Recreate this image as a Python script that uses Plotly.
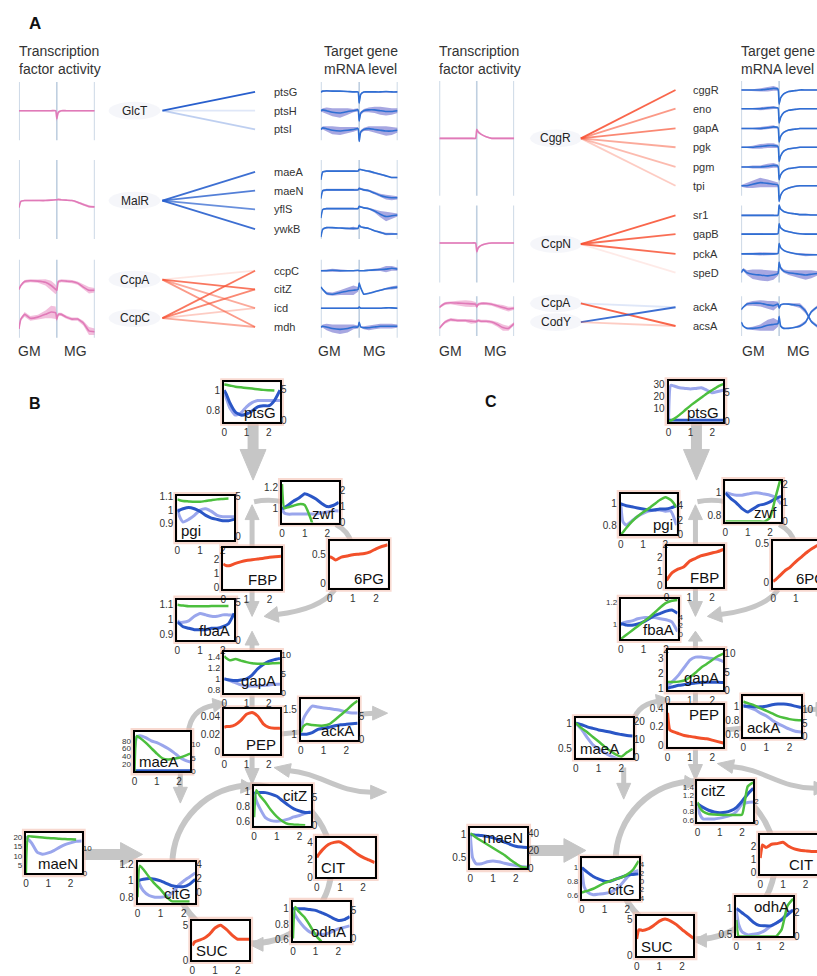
import plotly.graph_objects as go

W, H = 817, 976
FONT = "Liberation Sans, Arial, sans-serif"

# ======================= PANEL A DATA =======================
TA = [0, 0.05, 0.15, 0.3, 0.5, 0.7, 0.85, 0.97, 1.0, 1.04, 1.12, 1.25, 1.4, 1.55, 1.7, 1.85, 2.0]

TF_LEFT_ACT = {
    'GlcT': [0, 0, 0, 0, 0, 0, 0, 0, -1.0, -0.2, 0, 0, 0, 0, 0, 0, 0],
    'MalR': [-0.9, -0.1, 0, 0, 0, 0, 0.05, 0.1, 0.1, 0.15, 0.1, 0.05, 0, -0.2, -0.5, -0.75, -0.8],
    'CcpA': [-0.5, 0, 0.5, 0.6, 0.55, 0.4, 0, -0.5, -0.6, 0.5, 0.6, 0.55, 0.5, 0.3, -0.2, -0.6, -0.6],
    'CcpC': [-1.25, 0, 0.6, 0.1, 0.25, 0.6, 0.9, 0.8, 0, 0.6, 0.6, 0.25, 0, 0, -0.5, -1.5, -1.6],
}
TF_LEFT_SD = {
    'GlcT': [0.1, 0.1, 0.1, 0.1, 0.1, 0.1, 0.1, 0.1, 0.4, 0.2, 0.1, 0.1, 0.1, 0.1, 0.1, 0.1, 0.1],
    'MalR': [0.1, 0.1, 0.1, 0.1, 0.1, 0.1, 0.1, 0.1, 0.1, 0.1, 0.1, 0.1, 0.1, 0.1, 0.15, 0.15, 0.1],
    'CcpA': [0.1, 0.15, 0.2, 0.2, 0.2, 0.4, 0.6, 0.6, 0.3, 0.2, 0.2, 0.2, 0.2, 0.2, 0.3, 0.4, 0.3],
    'CcpC': [0.15, 0.2, 0.3, 0.3, 0.3, 0.5, 0.8, 0.8, 0.3, 0.2, 0.2, 0.2, 0.2, 0.2, 0.3, 0.5, 0.4],
}
TF_RIGHT_ACT = {
    'CggR': [0, 0, 0, 0, 0, 0, 0, 0, 1.1, 0.8, 0.5, 0.2, 0, 0, 0, 0, 0],
    'CcpN': [0, 0, 0, 0, 0, 0, 0, 0, -1.1, -0.6, -0.3, -0.1, 0, 0, 0, 0, 0],
    'CcpA': [-0.4, -0.2, 0.1, 0.2, 0.15, 0.1, 0.05, 0, -0.3, 0, 0.1, 0.1, 0, -0.2, -0.4, -0.6, -0.5],
    'CodY': [-0.8, -0.5, 0, 0.3, 0.2, 0.2, 0.1, 0.05, 0.1, 0.2, 0.1, 0.1, 0, -0.3, -0.7, -0.8, -0.2],
}
TF_RIGHT_SD = {
    'CggR': [0.1, 0.1, 0.1, 0.1, 0.1, 0.1, 0.1, 0.1, 0.2, 0.2, 0.1, 0.1, 0.1, 0.1, 0.1, 0.1, 0.1],
    'CcpN': [0.1, 0.1, 0.1, 0.1, 0.1, 0.1, 0.1, 0.1, 0.3, 0.2, 0.1, 0.1, 0.1, 0.1, 0.1, 0.1, 0.1],
    'CcpA': [0.1, 0.2, 0.2, 0.2, 0.3, 0.4, 0.4, 0.3, 0.2, 0.2, 0.2, 0.2, 0.2, 0.2, 0.3, 0.3, 0.2],
    'CodY': [0.1, 0.2, 0.2, 0.2, 0.2, 0.2, 0.3, 0.2, 0.2, 0.2, 0.2, 0.2, 0.2, 0.3, 0.4, 0.3, 0.2],
}

GENES_LEFT = ['ptsG', 'ptsH', 'ptsI', 'maeA', 'maeN', 'yflS', 'ywkB', 'ccpC', 'citZ', 'icd', 'mdh']
GENES_RIGHT = ['cggR', 'eno', 'gapA', 'pgk', 'pgm', 'tpi', 'sr1', 'gapB', 'pckA', 'speD', 'ackA', 'acsA']

EXPR_LEFT = {
    'ptsG': [0, 0.1, 0.15, 0.1, 0.1, 0.05, 0, 0, -1.4, -0.3, 0, 0, 0, 0, 0.05, 0, 0],
    'ptsH': [0, 0.1, 0, -0.2, -0.3, -0.1, 0, 0.1, -1.3, -0.3, 0, 0.1, 0.1, 0, -0.1, -0.1, 0],
    'ptsI': [0, 0.2, 0.1, -0.1, -0.2, -0.1, 0, 0.1, -1.5, -0.3, 0, 0.1, 0, -0.1, -0.2, -0.2, -0.1],
    'maeA': [-1.0, 0, 0.1, 0.1, 0.1, 0.1, 0.1, 0.1, 0.3, 0.3, 0.2, 0.1, -0.1, -0.3, -0.5, -0.7, -0.7],
    'maeN': [-1.0, 0, 0.1, 0.1, 0.1, 0.1, 0.1, 0.1, 0.3, 0.2, 0.1, 0, -0.3, -0.6, -0.8, -0.9, -0.9],
    'yflS': [-1.1, 0, 0.1, 0.1, 0.1, 0.1, 0.1, 0.1, 0.4, 0.3, 0.2, 0.1, -0.2, -0.6, -0.9, -0.8, -0.7],
    'ywkB': [-1.0, 0, 0.2, 0.2, 0.15, 0.1, 0.1, 0.1, 0.5, 0.3, 0.2, 0.1, -0.2, -0.4, -0.6, -0.6, -0.6],
    'ccpC': [0, 0, 0, 0.05, 0, 0, 0, 0.05, 0, 0, 0, 0.05, 0.1, 0.15, 0.2, 0.3, 0.2],
    'citZ': [0.3, 0, -0.5, -0.6, -0.4, -0.2, -0.1, 0, 0.8, 0.2, -0.6, -0.5, -0.3, -0.1, 0.1, 0.2, 0.3],
    'icd': [0, 0, 0, 0, 0, 0, 0, 0, 0.15, 0, 0, 0, 0, 0, 0.05, 0.05, 0],
    'mdh': [0, 0.1, 0, -0.2, -0.3, -0.2, 0, 0, 0.6, 0, -0.1, -0.1, 0, 0.1, 0.1, 0.1, 0.1],
}
SD_LEFT = {
    'ptsG': [0.1, 0.1, 0.1, 0.1, 0.1, 0.1, 0.1, 0.1, 0.2, 0.1, 0.1, 0.1, 0.1, 0.1, 0.1, 0.1, 0.1],
    'ptsH': [0.1, 0.2, 0.4, 0.5, 0.6, 0.4, 0.2, 0.2, 0.2, 0.2, 0.2, 0.3, 0.4, 0.5, 0.5, 0.4, 0.3],
    'ptsI': [0.1, 0.2, 0.3, 0.5, 0.5, 0.4, 0.3, 0.2, 0.2, 0.2, 0.2, 0.3, 0.4, 0.5, 0.6, 0.5, 0.3],
    'maeA': [0.1, 0.1, 0.1, 0.1, 0.1, 0.1, 0.1, 0.1, 0.1, 0.1, 0.1, 0.1, 0.1, 0.1, 0.1, 0.1, 0.1],
    'maeN': [0.15, 0.15, 0.15, 0.15, 0.15, 0.15, 0.15, 0.15, 0.15, 0.15, 0.15, 0.15, 0.15, 0.2, 0.3, 0.3, 0.2],
    'yflS': [0.1, 0.1, 0.1, 0.1, 0.1, 0.1, 0.1, 0.1, 0.1, 0.1, 0.1, 0.1, 0.2, 0.4, 0.6, 0.4, 0.2],
    'ywkB': [0.1, 0.1, 0.1, 0.1, 0.1, 0.1, 0.2, 0.1, 0.1, 0.1, 0.1, 0.1, 0.1, 0.1, 0.15, 0.15, 0.1],
    'ccpC': [0.1, 0.1, 0.15, 0.2, 0.15, 0.1, 0.1, 0.1, 0.1, 0.1, 0.1, 0.1, 0.15, 0.2, 0.4, 0.3, 0.2],
    'citZ': [0.1, 0.1, 0.2, 0.2, 0.3, 0.5, 0.6, 0.3, 0.2, 0.1, 0.1, 0.1, 0.1, 0.1, 0.15, 0.2, 0.2],
    'icd': [0.1, 0.1, 0.1, 0.1, 0.1, 0.1, 0.1, 0.1, 0.1, 0.1, 0.1, 0.1, 0.1, 0.1, 0.1, 0.1, 0.1],
    'mdh': [0.1, 0.2, 0.4, 0.5, 0.6, 0.5, 0.3, 0.2, 0.1, 0.1, 0.2, 0.3, 0.3, 0.3, 0.3, 0.3, 0.2],
}
EXPR_RIGHT = {
    'cggR': [0, 0, 0, 0, 0, 0.1, 0.2, 0.1, -1.8, -1.0, -0.5, -0.2, -0.1, 0, 0, 0, 0],
    'eno': [0, 0, 0, 0, 0, 0.1, 0.15, 0.1, -1.8, -1.1, -0.5, -0.2, -0.1, 0, 0, 0, 0],
    'gapA': [0, 0, 0, 0, 0, 0.1, 0.2, 0.1, -1.7, -1.0, -0.5, -0.2, -0.1, 0, 0, 0, 0],
    'pgk': [0, 0, 0, 0, 0.1, 0.2, 0.2, 0.1, -1.8, -1.1, -0.5, -0.2, -0.1, 0, 0, 0, 0],
    'pgm': [0, 0, 0, 0, 0, 0.1, 0.2, 0.1, -1.6, -1.0, -0.5, -0.2, -0.1, 0, 0, 0, 0],
    'tpi': [0, 0, 0, 0.2, 0.4, 0.3, 0.2, 0.1, -2.0, -1.2, -0.6, -0.3, -0.1, 0, 0, 0, 0],
    'sr1': [0, 0, 0, 0, 0, 0, 0, 0, 1.3, 0.8, 0.5, 0.3, 0.2, 0.1, 0.1, 0.05, 0.05],
    'gapB': [0, 0, 0, 0, 0, 0, 0, 0.05, 1.3, 0.8, 0.5, 0.3, 0.15, 0.05, 0, 0, 0],
    'pckA': [0, 0, 0, 0, 0, 0, 0, 0.05, 1.3, 0.8, 0.45, 0.2, 0.05, -0.05, -0.1, -0.1, -0.1],
    'speD': [0, 0.4, 0, -0.2, -0.3, -0.4, -0.3, -0.1, 1.3, 0.6, 0.2, 0, -0.1, -0.2, -0.3, -0.2, -0.1],
    'ackA': [-0.3, 0, 0.4, 0.5, 0.5, 0.3, 0.2, 0.4, -0.1, 0.3, 0.4, 0.4, 0.3, 0.2, -0.5, -1.8, -2.4],
    'acsA': [0.5, 0, -0.3, -0.3, -0.2, 0.1, 0.2, 0.3, 1.2, 0, -0.3, -0.3, -0.2, 0, 0.5, 1.8, 2.4],
}
SD_RIGHT = {
    'cggR': [0.1, 0.1, 0.1, 0.1, 0.2, 0.3, 0.3, 0.2, 0.2, 0.1, 0.1, 0.1, 0.1, 0.1, 0.1, 0.1, 0.1],
    'eno': [0.1, 0.1, 0.1, 0.1, 0.2, 0.2, 0.2, 0.1, 0.2, 0.1, 0.1, 0.1, 0.1, 0.1, 0.1, 0.1, 0.1],
    'gapA': [0.1, 0.1, 0.1, 0.1, 0.2, 0.2, 0.2, 0.1, 0.2, 0.1, 0.1, 0.1, 0.1, 0.1, 0.1, 0.1, 0.1],
    'pgk': [0.1, 0.1, 0.1, 0.2, 0.3, 0.3, 0.3, 0.2, 0.2, 0.1, 0.1, 0.1, 0.1, 0.1, 0.1, 0.1, 0.1],
    'pgm': [0.1, 0.1, 0.1, 0.2, 0.2, 0.3, 0.3, 0.2, 0.2, 0.1, 0.1, 0.1, 0.1, 0.1, 0.1, 0.1, 0.1],
    'tpi': [0.1, 0.2, 0.3, 0.5, 0.6, 0.5, 0.4, 0.3, 0.2, 0.2, 0.1, 0.1, 0.1, 0.1, 0.1, 0.1, 0.1],
    'sr1': [0.1, 0.1, 0.1, 0.1, 0.1, 0.1, 0.1, 0.1, 0.2, 0.1, 0.1, 0.1, 0.1, 0.1, 0.1, 0.1, 0.1],
    'gapB': [0.1, 0.1, 0.1, 0.1, 0.1, 0.1, 0.1, 0.1, 0.2, 0.1, 0.1, 0.1, 0.1, 0.1, 0.1, 0.1, 0.1],
    'pckA': [0.1, 0.1, 0.1, 0.15, 0.2, 0.2, 0.15, 0.1, 0.2, 0.1, 0.1, 0.1, 0.1, 0.15, 0.2, 0.15, 0.1],
    'speD': [0.1, 0.2, 0.3, 0.6, 0.7, 0.7, 0.6, 0.3, 0.2, 0.2, 0.2, 0.3, 0.4, 0.5, 0.6, 0.5, 0.3],
    'ackA': [0.1, 0.1, 0.2, 0.3, 0.4, 0.5, 0.6, 0.3, 0.1, 0.1, 0.1, 0.1, 0.2, 0.3, 0.3, 0.2, 0.2],
    'acsA': [0.1, 0.1, 0.1, 0.2, 0.4, 0.7, 0.8, 0.4, 0.2, 0.1, 0.1, 0.1, 0.1, 0.2, 0.2, 0.2, 0.2],
}

# regulatory edges: (TF, target, kind, strength)
EDGES_LEFT = [
    ('GlcT', 'ptsG', 'act', 1.0), ('GlcT', 'ptsH', 'act', 0.15), ('GlcT', 'ptsI', 'act', 0.3),
    ('MalR', 'maeA', 'act', 0.9), ('MalR', 'maeN', 'act', 0.8), ('MalR', 'yflS', 'act', 0.7), ('MalR', 'ywkB', 'act', 0.9),
    ('CcpA', 'ccpC', 'rep', 0.15), ('CcpA', 'citZ', 'rep', 0.8), ('CcpA', 'icd', 'rep', 0.5), ('CcpA', 'mdh', 'rep', 0.6),
    ('CcpC', 'ccpC', 'rep', 0.8), ('CcpC', 'citZ', 'rep', 0.7), ('CcpC', 'icd', 'rep', 0.3), ('CcpC', 'mdh', 'rep', 0.5),
]
EDGES_RIGHT = [
    ('CggR', 'cggR', 'rep', 0.9), ('CggR', 'eno', 'rep', 0.6), ('CggR', 'gapA', 'rep', 0.7),
    ('CggR', 'pgk', 'rep', 0.5), ('CggR', 'pgm', 'rep', 0.4), ('CggR', 'tpi', 'rep', 0.3),
    ('CcpN', 'sr1', 'rep', 0.9), ('CcpN', 'gapB', 'rep', 0.85), ('CcpN', 'pckA', 'rep', 0.85), ('CcpN', 'speD', 'rep', 0.12),
    ('CcpA', 'ackA', 'act', 0.15), ('CcpA', 'acsA', 'rep', 0.9),
    ('CodY', 'ackA', 'act', 0.9), ('CodY', 'acsA', 'rep', 0.3),
]

# ======================= PANELS B / C DATA =======================
T = [0, 0.1, 0.25, 0.5, 0.75, 1.0, 1.25, 1.5, 1.75, 2.0, 2.25, 2.5]
INSETS = ['ptsG', 'pgi', 'zwf', 'FBP', '6PG', 'fbaA', 'gapA', 'PEP', 'ackA', 'maeA', 'citZ', 'maeN', 'CIT', 'citG', 'odhA', 'SUC']
METABOLITES = ['FBP', '6PG', 'PEP', 'CIT', 'SUC']

B_DARK = {
    'ptsG': [1.0, 0.96, 0.88, 0.79, 0.76, 0.77, 0.80, 0.84, 0.85, 0.85, 0.90, 1.0],
    'pgi': [0.99, 1.0, 1.01, 1.02, 1.01, 0.99, 0.96, 0.94, 0.93, 0.92, 0.92, 0.93],
    'zwf': [1.0, 1.01, 1.03, 1.07, 1.1, 1.14, 1.12, 1.09, 1.05, 1.02, 1.03, 1.06],
    'fbaA': [0.98, 0.97, 0.95, 0.94, 0.93, 0.93, 0.93, 0.94, 0.94, 0.95, 0.97, 1.04],
    'gapA': [1.0, 0.99, 0.98, 0.97, 0.98, 1.0, 1.07, 1.18, 1.26, 1.32, 1.35, 1.37],
    'ackA': [1.0, 1.0, 1.0, 1.03, 1.1, 1.12, 1.14, 1.17, 1.19, 1.2, 1.21, 1.22],
    'maeA': [2, 2, 2, 2, 2, 2, 2, 2, 2, 2, 2, 2],
    'citZ': [0.98, 0.99, 0.99, 0.99, 0.97, 0.94, 0.88, 0.82, 0.77, 0.74, 0.72, 0.72],
    'maeN': None,
    'citG': [1.0, 1.01, 1.02, 1.03, 1.02, 1.0, 0.97, 0.94, 0.93, 0.93, 0.96, 1.02],
    'odhA': [1.0, 1.0, 1.0, 1.0, 0.99, 0.98, 0.95, 0.92, 0.88, 0.85, 0.86, 0.9],
}
B_LIGHT = {
    'ptsG': [0.98, 0.92, 0.83, 0.76, 0.78, 0.84, 0.88, 0.90, 0.90, 0.90, 0.90, 0.90],
    'pgi': [1.01, 0.95, 0.91, 0.93, 0.96, 1.0, 1.01, 0.99, 0.96, 0.95, 0.95, 0.95],
    'zwf': [1.0, 0.96, 0.95, 0.95, 0.95, 0.95, 0.95, 0.95, 0.96, 0.97, 0.98, 0.98],
    'fbaA': [0.99, 0.98, 0.98, 0.99, 1.02, 1.04, 1.03, 1.02, 1.02, 1.03, 1.03, 1.03],
    'gapA': [1.0, 0.99, 0.97, 0.93, 0.89, 0.87, 0.87, 0.87, 0.88, 0.89, 0.9, 0.9],
    'ackA': [1.07, 1.3, 1.43, 1.57, 1.55, 1.53, 1.52, 1.5, 1.48, 1.45, 1.43, 1.43],
    'maeA': [60, 90, 93, 88, 80, 75, 68, 60, 50, 38, 30, 25],
    'citZ': [1.0, 0.88, 0.78, 0.65, 0.61, 0.6, 0.61, 0.63, 0.66, 0.68, 0.71, 0.73],
    'maeN': [20.5, 19, 17, 12, 10.8, 11.5, 12.8, 14.5, 16, 17, 17.8, 18],
    'citG': [1.03, 0.95, 0.88, 0.82, 0.8, 0.8, 0.81, 0.85, 0.94, 1.0, 1.05, 1.1],
    'odhA': [1.0, 0.92, 0.85, 0.76, 0.7, 0.68, 0.67, 0.68, 0.71, 0.74, 0.76, 0.78],
}
B_GREEN = {
    'ptsG': [5.8, 5.7, 5.6, 5.4, 5.3, 5.2, 5.1, 5.0, 4.9, 4.85, 4.8, None],
    'pgi': [4.6, 4.5, 4.4, 4.35, 4.3, 4.3, 4.4, 4.5, 4.6, 4.65, 4.7, None],
    'zwf': [2.4, 0.9, 0.95, 1.05, 1.15, 1.1, 0.3, -0.8, None, None, None, None],
    'fbaA': [4.7, 4.65, 4.6, 4.5, 4.5, 4.5, 4.5, 4.55, 4.55, 4.55, 4.55, None],
    'gapA': [9.8, 9.2, 8.7, 9.0, 8.6, 8.2, 7.9, 7.8, 7.8, 7.8, 7.9, 8.0],
    'ackA': [1.6, 2.8, 3.3, 3.1, 3.0, 3.0, 3.3, 4.2, 5.2, 6.2, 7.3, 8.2],
    'maeA': [0, 12.9, 12.2, 10.5, 8.5, 6.5, 4.8, 4.4, 4.6, 5.0, 5.7, 6.5],
    'citZ': [1.5, 6.2, 5.3, 4.1, 2.7, 1.6, 0.8, 0.3, 0.2, 0.15, 0.1, None],
    'maeN': [0, 14.5, 14.4, 14.2, 14.0, 13.8, 13.7, 13.5, 13.4, 13.3, 13.2, None],
    'citG': [-0.7, 3.8, 3.3, 2.2, 1.2, 0.4, -0.6, -1.3, -1.3, -1.3, -1.3, None],
    'odhA': [0, 5.6, 4.8, 3.8, 2.3, 0.6, -0.5, None, None, None, None, None],
}
B_RED = {
    'FBP': [1.7, 1.6, 1.57, 1.72, 1.85, 1.95, 2.0, 2.05, 2.1, 2.17, 2.22, 2.25],
    '6PG': [0.46, 0.44, 0.40, 0.45, 0.47, 0.49, 0.50, 0.51, 0.54, 0.59, 0.63, 0.66],
    'PEP': [0.028, 0.029, 0.029, 0.031, 0.036, 0.043, 0.045, 0.041, 0.032, 0.028, 0.027, 0.027],
    'CIT': [2.3, 2.7, 3.2, 3.8, 4.05, 4.1, 3.7, 3.2, 2.7, 2.3, 2.0, 1.7],
    'SUC': [2.1, 2.6, 2.8, 3.1, 3.7, 4.6, 5.0, 4.4, 3.6, 3.0, 3.0, 3.0],
}
B_YL_TICKS = {'ptsG': [0.8, 1], 'pgi': [0.9, 1, 1.1], 'zwf': [1, 1.2], 'FBP': [0, 1, 2], '6PG': [0, 0.5],
              'fbaA': [0.9, 1, 1.1], 'gapA': [0.8, 1, 1.2, 1.4], 'PEP': [0, 0.02, 0.04], 'ackA': [1, 1.5],
              'maeA': [20, 40, 60, 80], 'citZ': [0.6, 0.8, 1], 'maeN': [5, 10, 15, 20], 'CIT': [0, 2, 4],
              'citG': [0.8, 1, 1.2], 'odhA': [0.6, 0.8, 1], 'SUC': [0, 5]}
B_YR_TICKS = {'ptsG': [0, 5], 'pgi': [0, 5], 'zwf': [0, 1, 2], 'fbaA': [0, 5], 'gapA': [0, 5, 10], 'ackA': [0, 5],
              'maeA': [0, 5, 10], 'citZ': [0, 5], 'maeN': [0, 10], 'citG': [0, 2, 4], 'odhA': [0, 5]}

C_DARK = {
    'ptsG': [0.5, 0.5, 0.5, 0.5, 0.5, 0.5, 0.5, 0.5, 0.5, 0.5, 0.5, 0.5],
    'pgi': [1.0, 0.99, 0.98, 0.97, 0.96, 0.95, 0.94, 0.94, 0.95, 0.95, 0.96, 0.98],
    'zwf': [1.0, 0.98, 0.95, 0.91, 0.86, 0.83, 0.86, 0.89, 0.9, 0.92, 0.95, 0.97],
    'fbaA': [1.0, 1.0, 0.99, 0.99, 1.0, 1.02, 1.05, 1.08, 1.1, 1.12, 1.13, 1.1],
    'gapA': [1.0, 1.05, 1.1, 1.2, 1.25, 1.3, 1.35, 1.38, 1.4, 1.4, 1.4, 1.38],
    'ackA': [1.0, 1.0, 1.0, 0.99, 0.99, 1.0, 1.02, 1.03, 1.03, 1.02, 1.0, 0.98],
    'maeA': [1.0, 0.99, 0.97, 0.93, 0.9, 0.87, 0.85, 0.83, 0.8, 0.78, 0.76, 0.75],
    'citZ': [0.99, 0.95, 0.9, 0.83, 0.79, 0.77, 0.78, 0.82, 0.9, 1.05, 1.22, 1.36],
    'maeN': [1.0, 1.0, 0.99, 0.98, 0.96, 0.93, 0.89, 0.84, 0.79, 0.75, 0.73, 0.72],
    'citG': [1.0, 0.97, 0.93, 0.87, 0.83, 0.8, 0.8, 0.83, 0.86, 0.89, 0.9, 0.91],
    'odhA': [1.0, 0.97, 0.92, 0.84, 0.74, 0.68, 0.67, 0.67, 0.72, 0.79, 0.88, 0.97],
}
C_LIGHT = {
    'ptsG': [0, 29, 28.5, 27, 26.5, 26, 26.5, 27, 25, 23, 24, 25],
    'pgi': [1.0, 0.83, 0.8, 0.84, 0.88, 0.91, 0.93, 0.94, 0.94, 0.93, 0.93, 0.8],
    'zwf': [1.0, 1.0, 0.99, 0.98, 0.98, 0.99, 1.0, 1.0, 0.99, 0.98, 0.96, 0.9],
    'fbaA': [1.0, 1.01, 1.02, 1.03, 1.05, 1.06, 1.06, 1.06, 1.05, 1.04, 1.02, 0.93],
    'gapA': [1.2, 1.3, 1.5, 1.9, 2.4, 2.9, 3.1, 3.1, 3.05, 3.0, 2.95, 2.8],
    'ackA': [1.03, 1.0, 0.98, 0.95, 0.9, 0.86, 0.8, 0.75, 0.71, 0.67, 0.64, 0.63],
    'maeA': [1.0, 0.95, 0.88, 0.72, 0.58, 0.5, 0.43, 0.37, 0.32, 0.28, 0.25, 0.22],
    'citZ': [1.0, 0.75, 0.62, 0.62, 0.62, 0.64, 0.67, 0.71, 0.8, 0.98, 1.02, 1.03],
    'maeN': [1.0, 0.5, 0.37, 0.37, 0.41, 0.43, 0.41, 0.38, 0.35, 0.33, 0.31, 0.3],
    'citG': [0.98, 0.72, 0.64, 0.6, 0.61, 0.62, 0.64, 0.68, 0.76, 0.86, 0.93, 0.96],
    'odhA': [0.97, 0.7, 0.56, 0.5, 0.51, 0.53, 0.58, 0.66, 0.72, 0.79, 0.92, 0.97],
}
C_GREEN = {
    'ptsG': [0, 0.2, 0.5, 1.2, 2.0, 2.8, 3.5, 4.2, 4.9, 5.5, 6.1, 6.5],
    'pgi': [0, 0.3, 0.9, 1.8, 2.5, 3.1, 3.6, 4.2, 4.8, 5.2, 4.8, 3.8],
    'zwf': [0, 0, 0, 0, 0, 0, 0, 0, 0, 0.2, 1.3, 2.4],
    'fbaA': [-1.2, -0.8, -0.2, 0.8, 1.8, 2.8, 3.8, 5.0, 6.2, 7.2, 7.7, 7.9],
    'gapA': [2.3, 2.3, 2.3, 2.4, 2.7, 3.6, 4.8, 6.2, 7.2, 8.3, 9.3, 10.0],
    'ackA': [12.8, 12.4, 12.0, 11.3, 10.3, 9.4, 8.5, 7.5, 6.9, 6.4, 6.1, 6.0],
    'maeA': [19.4, 18.2, 16.5, 14.2, 11.5, 9.0, 6.3, 3.8, 1.8, 0.5, 3.0, 5.0],
    'citZ': [1.9, 1.4, 1.0, 0.75, 0.7, 0.68, 0.66, 0.65, 0.65, 0.7, 3.4, 3.8],
    'maeN': [39.6, 38, 35, 31, 27, 23, 19, 15, 10, 5.5, 1.5, 0.5],
    'citG': [-2.7, -2.5, -2.3, -1.8, -1.1, -0.4, 0.0, 0.5, 0.9, 1.6, 2.7, 4.8],
    'odhA': [1.4, 0, 0, 0, 0, 0, 0, 0, 0, 0.6, 2.6, 3.2],
}
C_RED = {
    'FBP': [0.35, 0.6, 0.9, 1.15, 1.3, 1.7, 1.9, 2.1, 2.2, 2.3, 2.4, 2.55],
    '6PG': [0.02, 0.04, 0.08, 0.15, 0.2, 0.27, 0.33, 0.39, 0.44, 0.48, 0.45, 0.42],
    'PEP': [0.35, 0.17, 0.15, 0.13, 0.11, 0.1, 0.09, 0.08, 0.075, 0.06, 0.045, 0.03],
    'CIT': [1.1, 2.1, 1.9, 2.15, 2.2, 2.3, 2.0, 1.8, 1.7, 1.65, 1.6, 1.6],
    'SUC': [2.3, 3.6, 3.5, 3.7, 4.2, 4.8, 5.1, 4.8, 4.3, 3.6, 3.0, 2.4],
}
C_YL_TICKS = {'ptsG': [10, 20, 30], 'pgi': [0.8, 1], 'zwf': [0.8, 1], 'FBP': [0, 1, 2], '6PG': [0, 0.5],
              'fbaA': [1, 1.2], 'gapA': [1, 2, 3], 'PEP': [0, 0.2, 0.4], 'ackA': [0.6, 0.8, 1],
              'maeA': [0.5, 1], 'citZ': [0.6, 0.8, 1, 1.2, 1.4], 'maeN': [0.5, 1], 'CIT': [0, 1, 2],
              'citG': [0.6, 0.8, 1], 'odhA': [0.5, 1], 'SUC': [0, 5]}
C_YR_TICKS = {'ptsG': [0, 5], 'pgi': [0, 2, 4], 'zwf': [0, 1, 2], 'fbaA': [0, 2, 4], 'gapA': [0, 5, 10],
              'ackA': [0, 5, 10], 'maeA': [0, 10, 20], 'citZ': [0, 2], 'maeN': [0, 20, 40],
              'citG': [-4, -2, 0, 2, 4], 'odhA': [0, 2]}
C_YR_TEXT = {'citG': ['4', '2', '0', '2', '4']}

# ======================= LAYOUT CONSTANTS =======================
B_BOX = {'ptsG': (222, 382, 278, 422), 'pgi': (175, 497, 232, 542), 'zwf': (280, 483, 337, 524),
         'FBP': (221, 550, 279, 591), '6PG': (328, 543, 386, 590), 'fbaA': (175, 602, 232, 643),
         'gapA': (222, 655, 278, 697), 'PEP': (222, 713, 278, 758), 'ackA': (299, 703, 356, 744),
         'maeA': (132, 736, 188, 776), 'citZ': (252, 791, 309, 831), 'maeN': (23, 838, 79, 879),
         'CIT': (315, 843, 373, 883), 'citG': (135, 868, 193, 909), 'odhA': (291, 908, 348, 948),
         'SUC': (190, 927, 247, 967)}
B_YL_RANGE = {'ptsG': [0.695, 1.076], 'pgi': [0.772, 1.107], 'zwf': [0.871, 1.249], 'FBP': [-0.07, 2.82],
              '6PG': [-0.067, 0.717], 'fbaA': [0.86, 1.133], 'gapA': [0.735, 1.49], 'PEP': [-0.002, 0.0487],
              'ackA': [0.886, 1.706], 'maeA': [0.3, 103], 'citZ': [0.54, 1.076], 'maeN': [0.5, 22.5],
              'CIT': [0, 4.6], 'citG': [0.73, 1.23], 'odhA': [0.58, 1.09], 'SUC': [0, 5.67]}
B_YR_RANGE = {'ptsG': [-0.16, 6.1], 'pgi': [-0.46, 5.03], 'zwf': [0, 2.53], 'fbaA': [0, 5.4], 'gapA': [-0.1, 10.9],
              'ackA': [0, 8.5], 'maeA': [0, 14.4], 'citZ': [0, 6.9], 'maeN': [0, 15.9], 'citG': [-1.5, 4.3],
              'odhA': [-0.5, 6.5]}
B_LAB = {'ptsG': 'br', 'pgi': 'bl', 'zwf': 'br', 'FBP': 'br', '6PG': 'br', 'fbaA': 'br', 'gapA': 'mr',
         'PEP': 'br', 'ackA': 'br', 'maeA': 'bl', 'citZ': 'tr', 'maeN': 'br', 'CIT': 'bl', 'citG': 'br',
         'odhA': 'br', 'SUC': 'bl'}
B_TICKSIZE = {'maeA': 8, 'maeN': 8, 'gapA': 9}

C_BOX = {'ptsG': (668, 381, 723, 422), 'pgi': (620, 495, 676, 536), 'zwf': (725, 482, 781, 523),
         'FBP': (666, 548, 723, 589), '6PG': (773, 543, 830, 590), 'fbaA': (620, 601, 677, 642),
         'gapA': (667, 653, 723, 694), 'PEP': (667, 709, 723, 751), 'ackA': (743, 700, 801, 741),
         'maeA': (575, 722, 632, 762), 'citZ': (697, 786, 753, 827), 'maeN': (469, 833, 526, 874),
         'CIT': (760, 840, 817, 880), 'citG': (581, 864, 638, 905), 'odhA': (736, 903, 793, 943),
         'SUC': (636, 922, 693, 963)}
C_YL_RANGE = {'ptsG': [-0.8, 32.3], 'pgi': [0.714, 1.09], 'zwf': [0.745, 1.106], 'FBP': [-0.1, 2.78],
              '6PG': [-0.06, 0.525], 'fbaA': [0.86, 1.237], 'gapA': [0.85, 3.58], 'PEP': [-0.01, 0.43],
              'ackA': [0.56, 1.14], 'maeA': [0.33, 1.1], 'citZ': [0.55, 1.53], 'maeN': [0.27, 1.15],
              'CIT': [-0.12, 2.88], 'citG': [0.54, 1.136], 'odhA': [0.47, 1.22], 'SUC': [-0.1, 5.56]}
C_YR_RANGE = {'ptsG': [0, 7.0], 'pgi': [0, 5.65], 'zwf': [0, 2.16], 'fbaA': [-1.2, 8.2], 'gapA': [0, 11],
              'ackA': [0, 14.6], 'maeA': [0, 22.1], 'citZ': [0, 3.9], 'maeN': [0, 46], 'citG': [-4.2, 5.4],
              'odhA': [0, 3.36]}
C_LAB = {'ptsG': 'br', 'pgi': 'br', 'zwf': 'br', 'FBP': 'br', '6PG': 'br', 'fbaA': 'br', 'gapA': 'mr',
         'PEP': 'tr', 'ackA': 'bl', 'maeA': 'bl', 'citZ': 'tl', 'maeN': 'tr', 'CIT': 'br', 'citG': 'br',
         'odhA': 'tr', 'SUC': 'bl'}
C_TICKSIZE = {'citZ': 8, 'citG': 8, 'fbaA': 8}

# panel A positions
ROW_Y = {'ptsG': 88, 'ptsH': 107, 'ptsI': 126, 'maeA': 169, 'maeN': 188, 'yflS': 207, 'ywkB': 227,
         'ccpC': 269, 'citZ': 288, 'icd': 307, 'mdh': 326}
ROW_Y_R = {'cggR': 86, 'eno': 105, 'gapA': 125, 'pgk': 144, 'pgm': 164, 'tpi': 183, 'sr1': 213,
           'gapB': 232, 'pckA': 252, 'speD': 271, 'ackA': 306, 'acsA': 325}
TF_CURVE_Y_L = {'GlcT': 107, 'MalR': 198, 'CcpA': 284, 'CcpC': 318}
TF_CURVE_Y_R = {'CggR': 135, 'CcpN': 241, 'CcpA': 303, 'CodY': 321}
TF_NODE_Y_L = {'GlcT': 107, 'MalR': 198, 'CcpA': 278, 'CcpC': 317}
TF_NODE_Y_R = {'CggR': 135, 'CcpN': 242, 'CcpA': 302, 'CodY': 321}
GROUPS_L = [(78, 137), (157, 237), (258, 337)]
GROUPS_R = [(77, 193), (203, 281), (295, 335)]
AMP = 8

DARK, LIGHT, GREEN, RED = '#2a56c6', '#9aa6ec', '#4cbf3e', '#f2502a'
GRAY = '#c6c6c6'

# ======================= BUILD =======================
layout = dict(width=W, height=H, margin=dict(l=0, r=0, t=0, b=0), paper_bgcolor='white',
              plot_bgcolor='rgba(0,0,0,0)', showlegend=False, autosize=False)
layout['xaxis'] = dict(domain=[0, 1], range=[0, W], visible=False, fixedrange=True)
layout['yaxis'] = dict(domain=[0, 1], range=[H, 0], visible=False, fixedrange=True)

traces, shapes_arrows, shapes_boxes, shapes_nodes, annotations = [], [], [], [], []


def px(x):
    return x / W


def py(y):
    return 1 - y / H


def text(s, x, y, size=12, xa='center', ya='middle', color='#222', bold=False):
    annotations.append(dict(text=f'<b>{s}</b>' if bold else s, x=px(x), y=py(y), xref='paper', yref='paper',
                            xanchor=xa, yanchor=ya, showarrow=False, align='left',
                            font=dict(size=size, color=color, family=FONT)))


# ---------- panel A columns ----------
def column(axid, x0, x1, groups, curves, centers, sds, lc, bc, last_line=True):
    layout[f'xaxis{axid}'] = dict(domain=[px(x0), px(x1)], range=[0, 2], anchor='y', visible=False, fixedrange=True)
    xs, ys = [], []
    for (g0, g1) in groups:
        for t in ([0, 1, 2] if last_line else [0, 1]):
            xs += [t, t, None]
            ys += [g0, g1, None]
    traces.append(go.Scatter(x=xs, y=ys, xaxis=f'x{axid}', yaxis='y', mode='lines',
                             line=dict(color='#bfcfe0', width=1.6), hoverinfo='skip'))
    for name, vals in curves.items():
        c = centers[name]
        sd = sds[name]
        up = [c - AMP * (v + s) for v, s in zip(vals, sd)]
        lo = [c - AMP * (v - s) for v, s in zip(vals, sd)]
        traces.append(go.Scatter(x=TA + TA[::-1], y=up + lo[::-1], xaxis=f'x{axid}', yaxis='y', mode='lines',
                                 fill='toself', fillcolor=bc, line=dict(width=0), hoverinfo='skip'))
        traces.append(go.Scatter(x=TA, y=[c - AMP * v for v in vals], xaxis=f'x{axid}', yaxis='y', mode='lines',
                                 line=dict(color=lc, width=1.6, shape='spline', smoothing=0.4), hoverinfo='skip'))


PINK, PINKB = '#e07ab8', 'rgba(226,110,178,0.45)'
BLUE, BLUEB = '#2f6fd3', 'rgba(95,95,200,0.55)'
column(2, 16, 92, GROUPS_L, TF_LEFT_ACT, TF_CURVE_Y_L, TF_LEFT_SD, PINK, PINKB)
column(3, 319, 396, GROUPS_L, EXPR_LEFT, ROW_Y, SD_LEFT, BLUE, BLUEB)
column(4, 438, 513, GROUPS_R, TF_RIGHT_ACT, TF_CURVE_Y_R, TF_RIGHT_SD, PINK, PINKB)
column(5, 741, 817, GROUPS_R, EXPR_RIGHT, ROW_Y_R, SD_RIGHT, BLUE, BLUEB, last_line=False)


def fan(edges, node_y, row_y, xs, xe, xlab, glab_x):
    for tf, g, kind, a in edges:
        col = f'rgba(40,95,205,{a})' if kind == 'act' else f'rgba(248,85,55,{a})'
        traces.append(go.Scatter(x=[xs, xe], y=[node_y[tf], row_y[g]], xaxis='x', yaxis='y', mode='lines',
                                 line=dict(color=col, width=1.8), hoverinfo='skip'))
    for tf, y in node_y.items():
        shapes_nodes.append(dict(type='circle', xref='paper', yref='paper', x0=px(xlab - 26), x1=px(xlab + 26),
                                 y0=py(y + 9), y1=py(y - 9), fillcolor='rgba(242,244,249,0.8)',
                                 line=dict(width=0), layer='below'))
        text(tf, xlab, y, size=12, color='#222')
    for g, y in row_y.items():
        text(g, glab_x, y, size=11, xa='left', color='#333')


fan(EDGES_LEFT, TF_NODE_Y_L, ROW_Y, 160, 253, 132, 270)
fan(EDGES_RIGHT, TF_NODE_Y_R, ROW_Y_R, 580, 675, 555, 691)

# panel A labels
text('A', 24, 19, size=17, xa='left', bold=True, color='#111')
for x in (14, 436):
    text('Transcription<br>factor activity', x, 36, size=14, xa='left', ya='top', color='#333')
for x in (320, 739):
    text('Target gene<br>mRNA level', x, 36, size=14, xa='left', ya='top', color='#333')
for gx, mx in ((27, 73), (328, 373), (449, 494), (753, 798)):
    text('GM', gx, 350, size=14, color='#333')
    text('MG', mx, 350, size=14, color='#333')
text('B', 24, 403, size=16, xa='left', bold=True, color='#111')
text('C', 482, 401, size=16, xa='left', bold=True, color='#111')


# ---------- gray arrows ----------
def P(pt):
    return f'{px(pt[0]):.5f},{py(pt[1]):.5f}'


def arrows_for(dx, dy_low):
    def tr(p):
        return (p[0] + dx, p[1] + (dy_low if p[1] > 640 else 0))

    def line(pts, w):
        pts = [tr(p) for p in pts]
        if len(pts) == 2:
            path = f'M{P(pts[0])} L{P(pts[1])}'
        elif len(pts) == 3:
            path = f'M{P(pts[0])} Q{P(pts[1])} {P(pts[2])}'
        else:
            path = f'M{P(pts[0])} C{P(pts[1])} {P(pts[2])} {P(pts[3])}'
        shapes_arrows.append(dict(type='path', path=path, xref='paper', yref='paper',
                                  line=dict(color=GRAY, width=w), layer='below'))

    def head(tip, base, hw):
        tip, base = tr(tip), tr(base)
        ddx, ddy = tip[0] - base[0], tip[1] - base[1]
        L = (ddx ** 2 + ddy ** 2) ** 0.5
        nx, ny = -ddy / L, ddx / L
        b1 = (base[0] + nx * hw, base[1] + ny * hw)
        b2 = (base[0] - nx * hw, base[1] - ny * hw)
        shapes_arrows.append(dict(type='path', path=f'M{P(b1)} L{P(b2)} L{P(tip)} Z', xref='paper', yref='paper',
                                  fillcolor=GRAY, line=dict(color=GRAY, width=1), layer='below'))

    line([(251, 423), (251, 452)], 11); head((251, 481), (251, 450), 13)
    line([(252, 503), (266, 500), (281, 503)], 5)
    line([(334, 526), (346, 532), (350, 545)], 5)
    line([(333, 592), (318, 612), (275, 617)], 5); head((262, 619), (276, 617), 8)
    line([(250, 519), (250, 606)], 5); head((250, 506), (250, 521), 7); head((250, 619), (250, 604), 7)
    line([(250, 646), (250, 655)], 5); head((250, 634), (250, 648), 7)
    line([(250, 697), (250, 713)], 5)
    line([(186, 737), (188, 713), (212, 709)], 5); head((224, 707), (211, 709), 7)
    line([(279, 738), (299, 736)], 5)
    line([(356, 718), (372, 717)], 5); head((386, 717), (371, 717), 7)
    line([(250, 758), (250, 774)], 5); head((250, 789), (250, 773), 7)
    line([(178, 776), (178, 794)], 5); head((178, 808), (178, 792), 7)
    line([(286, 775), (320, 778), (335, 797), (370, 797)], 5)
    head((272, 772), (288, 775), 7); head((385, 797), (369, 797), 7)
    c = tr((250, 870))
    shapes_arrows.append(dict(type='circle', xref='paper', yref='paper', x0=px(c[0] - 80), x1=px(c[0] + 80),
                              y0=py(c[1] + 80), y1=py(c[1] - 80), line=dict(color=GRAY, width=6), layer='below'))
    head((253, 792), (239, 791), 7)
    head((247, 951), (261, 951), 7)
    line([(80, 860), (120, 860)], 11); head((140, 860), (118, 860), 12)


arrows_for(0, 0)
arrows_for(445, -4)

# ---------- insets ----------
ids = {'n': 5}


def nid():
    ids['n'] += 1
    return ids['n']


def fmt(v):
    return f'{v:g}'


def tickf(size):
    return dict(size=size, color='#333', family=FONT)


def inset(name, box, dark, light, green, red, ylr, ylt, yrr, yrt, yrtext, lab, tsize=10):
    x0, y0, x1, y1 = box
    clipped = x1 > W - 1
    xe = min(x1, W)
    xr1 = 2.5 * (xe - x0) / (x1 - x0)
    n = nid()
    shapes_boxes.append(dict(type='rect', xref='paper', yref='paper', x0=px(x0 - 2), x1=px(x1 + 2),
                             y0=py(y1 + 2), y1=py(y0 - 2), line=dict(color='rgba(242,185,170,0.55)', width=4),
                             fillcolor='white', layer='below'))
    layout[f'xaxis{n}'] = dict(domain=[px(x0), px(xe)], range=[0, xr1], anchor=f'y{n}', tickvals=[0, 1, 2],
                               ticktext=['0', '1', '2'], showgrid=False, zeroline=False, showline=True,
                               mirror=True, linecolor='black', linewidth=2, ticks='', tickfont=tickf(10),
                               fixedrange=True)
    layout[f'yaxis{n}'] = dict(domain=[py(y1), py(y0)], range=ylr, anchor=f'x{n}', tickvals=ylt,
                               ticktext=[fmt(v) for v in ylt], showgrid=False, zeroline=False, showline=True,
                               mirror=not clipped, linecolor='black', linewidth=2, ticks='', tickfont=tickf(tsize),
                               fixedrange=True)
    if red is not None:
        traces.append(go.Scatter(x=T, y=red, xaxis=f'x{n}', yaxis=f'y{n}', mode='lines',
                                 line=dict(color=RED, width=3, shape='spline', smoothing=0.5), hoverinfo='skip'))
    else:
        m = nid()
        layout[f'yaxis{m}'] = dict(overlaying=f'y{n}', side='right', anchor=f'x{n}', range=yrr, tickvals=yrt,
                                   ticktext=yrtext if yrtext else [fmt(v) for v in yrt], showgrid=False,
                                   zeroline=False, showline=False, ticks='', tickfont=tickf(tsize),
                                   fixedrange=True)
        if light is not None:
            traces.append(go.Scatter(x=T, y=light, xaxis=f'x{n}', yaxis=f'y{n}', mode='lines',
                                     line=dict(color=LIGHT, width=3, shape='spline', smoothing=0.5),
                                     hoverinfo='skip'))
        if dark is not None:
            traces.append(go.Scatter(x=T, y=dark, xaxis=f'x{n}', yaxis=f'y{n}', mode='lines',
                                     line=dict(color=DARK, width=3, shape='spline', smoothing=0.5),
                                     hoverinfo='skip'))
        traces.append(go.Scatter(x=T, y=green, xaxis=f'x{n}', yaxis=f'y{m}', mode='lines',
                                 line=dict(color=GREEN, width=2.5, shape='spline', smoothing=0.5),
                                 hoverinfo='skip'))
    if lab == 'br':
        ax, ay, xa, ya = x1 - 2, y1 + 1, 'right', 'bottom'
    elif lab == 'mr':
        ax, ay, xa, ya = x1 - 2, y1 - 2, 'right', 'bottom'
    elif lab == 'bl':
        ax, ay, xa, ya = x0 + 2, y1 + 1, 'left', 'bottom'
    elif lab == 'tr':
        ax, ay, xa, ya = x1 - 2, y0 - 1, 'right', 'top'
    else:
        ax, ay, xa, ya = x0 + 2, y0 - 1, 'left', 'top'
    text(name, ax, ay, size=15, xa=xa, ya=ya, color='#111')


for name in INSETS:
    if name in METABOLITES:
        inset(name, B_BOX[name], None, None, None, B_RED[name], B_YL_RANGE[name], B_YL_TICKS[name],
              None, None, None, B_LAB[name], B_TICKSIZE.get(name, 10))
        inset(name, C_BOX[name], None, None, None, C_RED[name], C_YL_RANGE[name], C_YL_TICKS[name],
              None, None, None, C_LAB[name], C_TICKSIZE.get(name, 10))
    else:
        inset(name, B_BOX[name], B_DARK[name], B_LIGHT[name], B_GREEN[name], None, B_YL_RANGE[name],
              B_YL_TICKS[name], B_YR_RANGE[name], B_YR_TICKS[name], None, B_LAB[name], B_TICKSIZE.get(name, 10))
        inset(name, C_BOX[name], C_DARK[name], C_LIGHT[name], C_GREEN[name], None, C_YL_RANGE[name],
              C_YL_TICKS[name], C_YR_RANGE[name], C_YR_TICKS[name], C_YR_TEXT.get(name), C_LAB[name],
              C_TICKSIZE.get(name, 10))

layout['shapes'] = shapes_nodes + shapes_arrows + shapes_boxes
layout['annotations'] = annotations

fig = go.Figure(data=traces, layout=layout)
fig.write_html("out.html", config={'displayModeBar': False, 'staticPlot': True},
               post_script="document.body.style.margin='0px';document.body.style.overflow='hidden';")
